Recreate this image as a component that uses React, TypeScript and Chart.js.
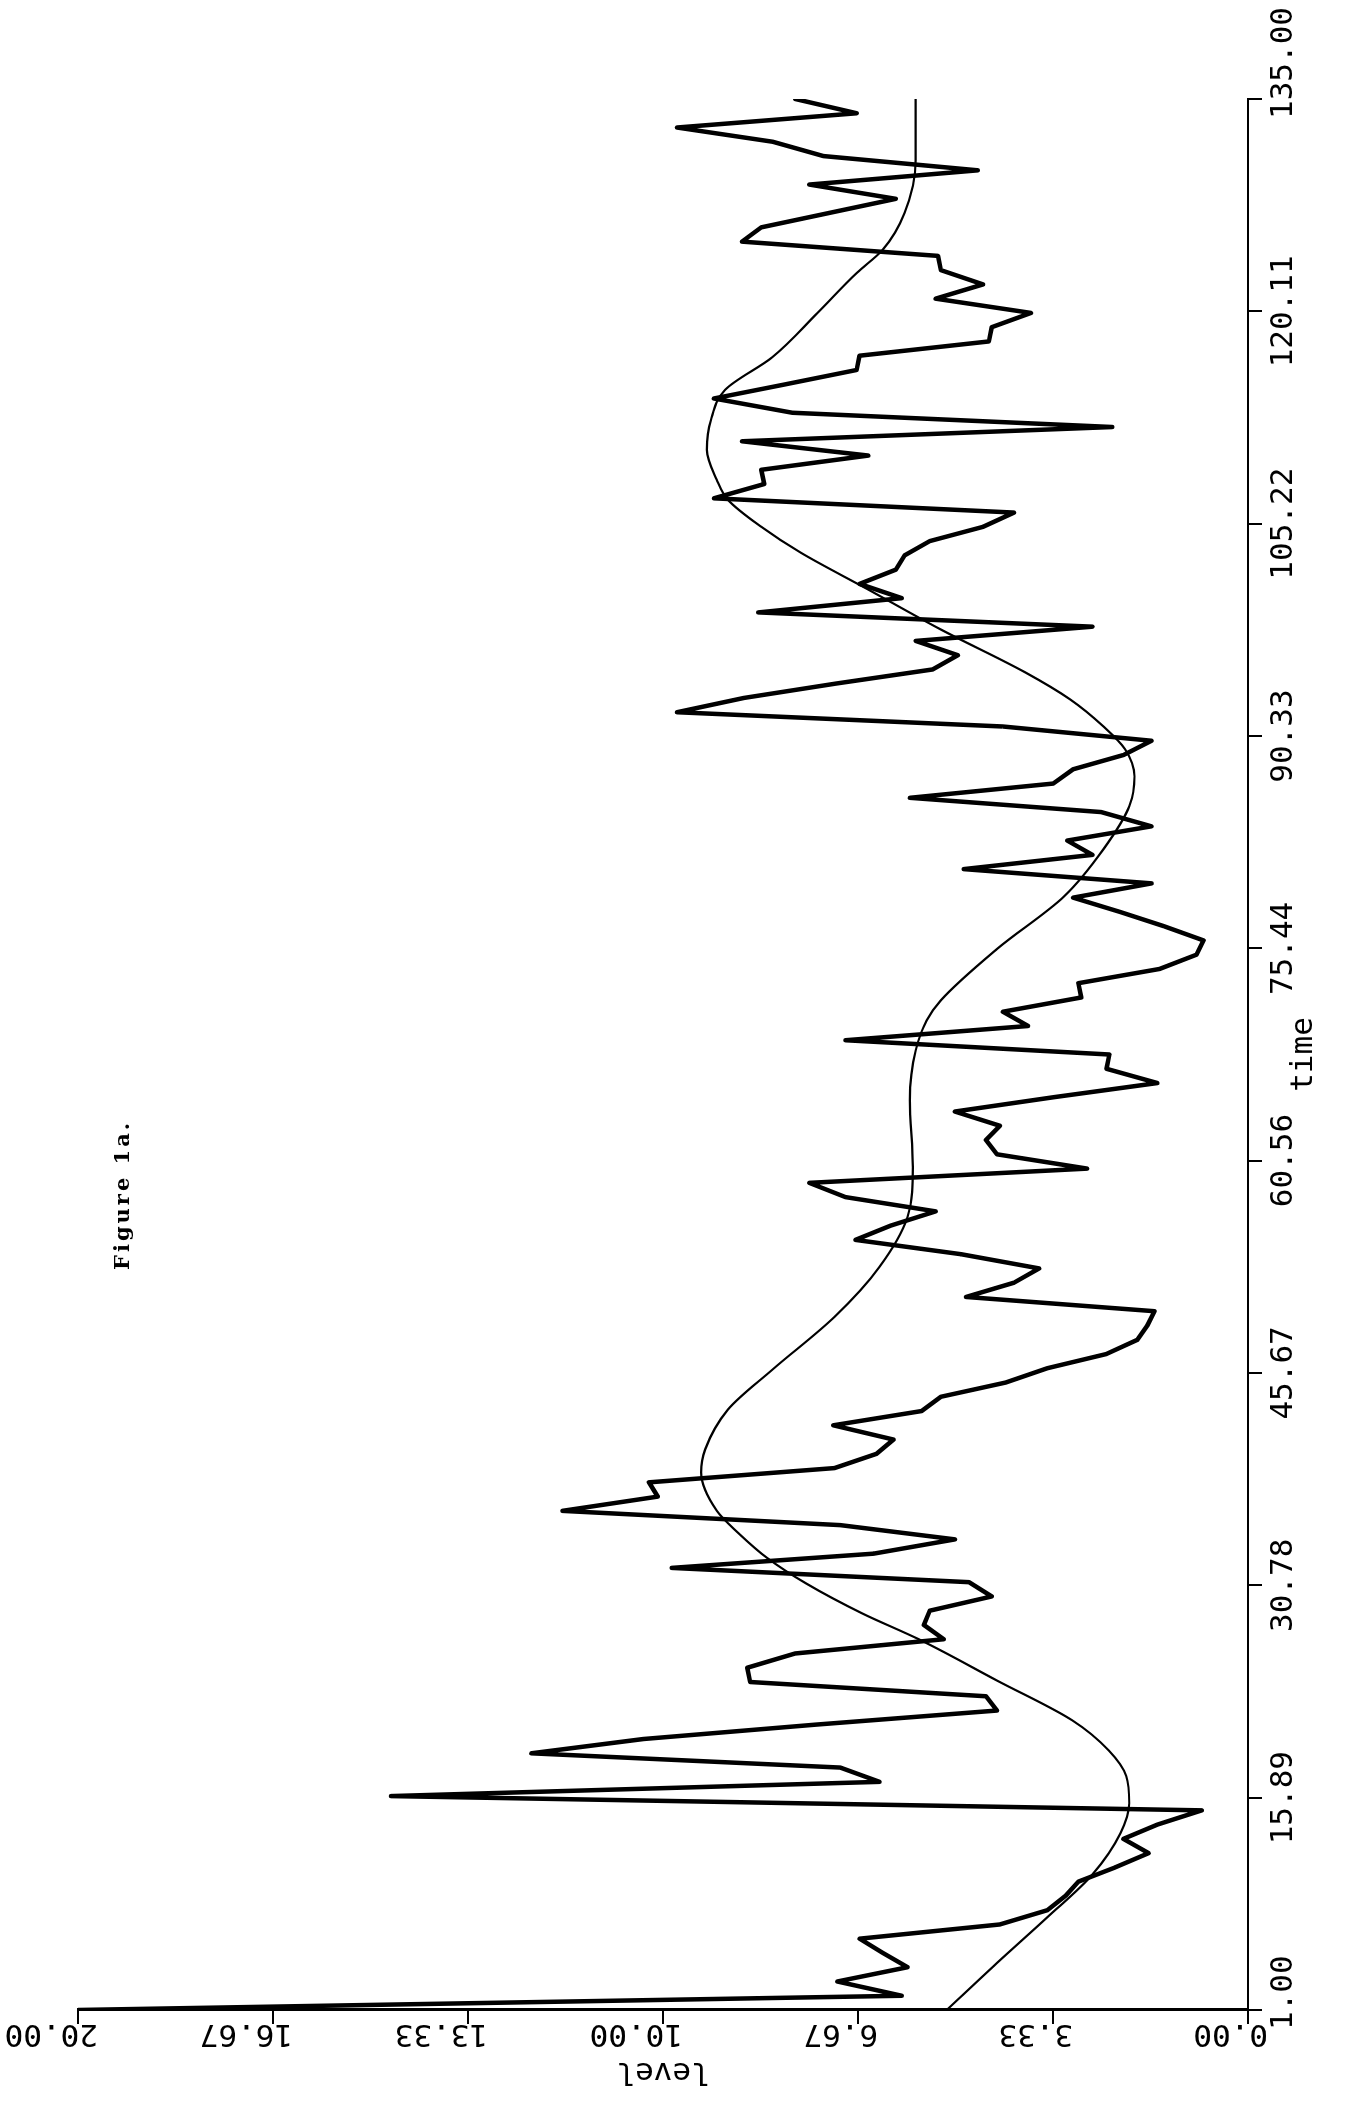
import React, { useEffect, useRef } from 'react';
import { Chart, registerables } from 'chart.js';

Chart.register(...registerables);

// jagged observed series, one value per time step starting at time 1
const timeStart = 1;
const levels = [
  20.0, 5.92, 7.02, 5.82, 6.24, 6.64, 4.24, 3.43, 3.12, 2.90,
  2.27, 1.70, 2.13, 1.55, 0.79, 14.65, 6.30, 6.97, 12.25, 10.34,
  7.42, 4.29, 4.48, 8.51, 8.56, 7.74, 5.20, 5.54, 5.44, 4.38,
  4.77, 9.85, 6.40, 5.01, 6.97, 11.72, 10.09, 10.24, 7.07, 6.35,
  6.06, 7.09, 5.58, 5.25, 4.14, 3.43, 2.42, 1.89, 1.72, 1.60,
  4.82, 4.00, 3.57, 4.91, 6.71, 6.11, 5.34, 6.88, 7.50, 2.75,
  4.29, 4.48, 4.24, 5.01, 3.33, 1.55, 2.42, 2.37, 6.88, 3.76,
  4.19, 2.85, 2.90, 1.51, 0.88, 0.76, 1.44, 2.19, 2.99, 1.65,
  4.86, 2.66, 3.09, 1.65, 2.51, 5.78, 3.33, 2.99, 2.13, 1.65,
  4.19, 9.76, 8.62, 7.06, 5.39, 4.96, 5.68, 2.66, 8.37, 5.92,
  6.64, 6.02, 5.87, 5.44, 4.53, 4.00, 9.13, 8.27, 8.32, 6.49,
  8.65, 2.32, 7.79, 9.13, 7.90, 6.69, 6.64, 4.43, 4.38, 3.71,
  5.34, 4.53, 5.25, 5.30, 8.65, 8.32, 7.17, 6.02, 7.50, 4.62,
  7.26, 8.12, 9.76, 6.69, 7.74,
];

// smooth fitted curve, read at these times
const smoothTimes = [
  1, 4.3, 7.5, 10.5, 13.4, 15.5, 17.4, 19.2, 21.3, 24.1, 27, 28.8, 30.9, 32.7,
  34.4, 36, 38.7, 40.3, 43.1, 45.9, 49.6, 53.1, 56.6, 60.1, 64.8, 68.3, 70.4,
  71.8, 75.4, 79.1, 82.4, 85.4, 87.5, 89.4, 91, 92.9, 94.8, 97.8, 100.6, 103.2,
  105, 106.9, 108.3, 110.4, 112.5, 114.6, 116.9, 120, 122.8, 124.4, 127, 130.7, 135,
];
const smoothLevels = [
  5.15, 4.29, 3.43, 2.66, 2.18, 2.03, 2.08, 2.38, 3.0, 4.29, 5.63, 6.59, 7.55, 8.22,
  8.7, 9.08, 9.35, 9.28, 8.89, 8.13, 7.07, 6.3, 5.82, 5.73, 5.78, 5.68, 5.49,
  5.25, 4.29, 3.14, 2.47, 2.03, 1.94, 2.1, 2.47, 3.04, 3.81, 5.25, 6.49, 7.65,
  8.32, 8.89, 9.08, 9.25, 9.18, 8.94, 8.13, 7.36, 6.69, 6.25, 5.87, 5.68, 5.68,
];

const timeTicks = [1, 15.89, 30.78, 45.67, 60.56, 75.44, 90.33, 105.22, 120.11, 135];
const timeTickLabels = ['1.00', '15.89', '30.78', '45.67', '60.56', '75.44', '90.33', '105.22', '120.11', '135.00'];
const levelTicks = [0, 3.333, 6.667, 10, 13.333, 16.667, 20];
const levelTickLabels = ['0.00', '3.33', '6.67', '10.00', '13.33', '16.67', '20.00'];

const CANVAS_W = 2111; // becomes page height after rotation
const CANVAS_H = 1350; // becomes page width after rotation

const textPlugin = {
  id: 'plotterText',
  afterDraw(chart: any) {
    const { ctx } = chart;
    const x = chart.scales.x;
    const y = chart.scales.y;
    ctx.save();
    ctx.fillStyle = '#000';
    ctx.font = '31px "DejaVu Sans Mono"';
    ctx.textBaseline = 'alphabetic';
    const last = x.ticks.length - 1;
    x.ticks.forEach((t: any, i: number) => {
      const px = x.getPixelForValue(t.value);
      if (i === 0 || i === last) {
        ctx.textAlign = 'left';
        ctx.fillText(timeTickLabels[i], px - 20, x.top + 44);
      } else {
        ctx.textAlign = 'center';
        ctx.fillText(timeTickLabels[i], px, x.top + 44);
      }
    });
    ctx.textAlign = 'left';
    y.ticks.forEach((t: any, i: number) => {
      const py = y.getPixelForValue(t.value);
      ctx.save();
      ctx.translate(y.right - 15, py + 20);
      ctx.rotate(-Math.PI / 2);
      ctx.fillText(levelTickLabels[i], 0, 0);
      ctx.restore();
    });
    ctx.textAlign = 'center';
    ctx.fillText('time', (x.left + x.right) / 2, x.top + 64);
    ctx.save();
    ctx.translate(y.left + 48, (y.top + y.bottom) / 2);
    ctx.rotate(-Math.PI / 2);
    ctx.fillText('level', 0, 0);
    ctx.restore();
    ctx.font = 'bold 21px "DejaVu Serif"';
    ctx.textAlign = 'left';
    try { (ctx as any).letterSpacing = '3px'; } catch (e) {}
    ctx.fillText('Figure 1a.', 841, 129);
    ctx.restore();
  },
};

export default function App() {
  const ref = useRef<HTMLCanvasElement | null>(null);

  useEffect(() => {
    document.body.style.margin = '0';
    const canvas = ref.current;
    if (!canvas) return;
    const series = levels.map((v, i) => ({ x: timeStart + i, y: v }));
    const smooth = smoothTimes.map((t, i) => ({ x: t, y: smoothLevels[i] }));
    const chart = new Chart(canvas, {
      type: 'line',
      data: {
        datasets: [
          {
            data: series,
            borderColor: '#000',
            borderWidth: 4.5,
            pointRadius: 0,
            tension: 0,
            borderJoinStyle: 'round',
            borderCapStyle: 'round',
            fill: false,
          },
          {
            data: smooth,
            borderColor: '#000',
            borderWidth: 2.2,
            pointRadius: 0,
            cubicInterpolationMode: 'monotone',
            fill: false,
          },
        ],
      },
      options: {
        animation: false,
        responsive: false,
        events: [],
        layout: { padding: { left: 0, right: 99, top: 78, bottom: 0 } },
        plugins: {
          legend: { display: false },
          tooltip: { enabled: false },
          title: { display: false },
        },
        scales: {
          x: {
            type: 'linear',
            position: 'bottom',
            min: 1,
            max: 135,
            afterBuildTicks: (s: any) => {
              s.ticks = timeTicks.map((v) => ({ value: v }));
            },
            afterFit: (s: any) => {
              s.height = 102;
            },
            ticks: { display: false },
            grid: {
              display: true,
              drawOnChartArea: false,
              drawTicks: true,
              tickLength: 14,
              color: '#000',
              lineWidth: 2,
            },
            border: { display: true, color: '#000', width: 2 },
          },
          y: {
            type: 'linear',
            position: 'left',
            min: 0,
            max: 20,
            afterBuildTicks: (s: any) => {
              s.ticks = levelTicks.map((v) => ({ value: v }));
            },
            afterFit: (s: any) => {
              s.width = 101;
            },
            ticks: { display: false },
            grid: {
              display: true,
              drawOnChartArea: false,
              drawTicks: true,
              tickLength: 14,
              color: '#000',
              lineWidth: 2,
            },
            border: { display: true, color: '#000', width: 3 },
          },
        },
      },
      plugins: [textPlugin],
    } as any);
    return () => chart.destroy();
  }, []);

  return (
    <div
      style={{
        position: 'absolute',
        left: 0,
        top: 0,
        width: CANVAS_H,
        height: CANVAS_W,
        overflow: 'hidden',
        background: '#fff',
      }}
    >
      <canvas
        ref={ref}
        width={CANVAS_W}
        height={CANVAS_H}
        style={{
          position: 'absolute',
          left: 0,
          top: 0,
          width: CANVAS_W,
          height: CANVAS_H,
          transformOrigin: '0 0',
          transform: `translate(0px, ${CANVAS_W}px) rotate(-90deg)`,
        }}
      />
    </div>
  );
}
